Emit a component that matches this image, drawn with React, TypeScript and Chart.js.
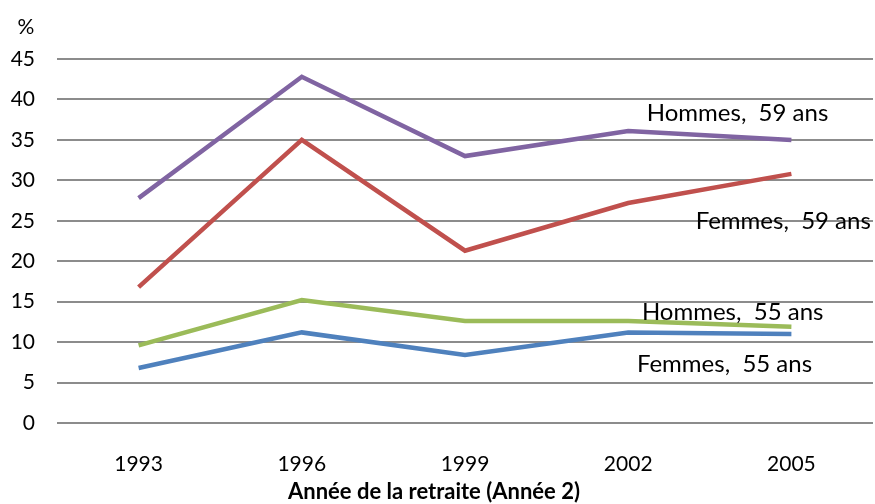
import React, { useEffect, useRef } from "react";
import { Chart, registerables } from "chart.js";

Chart.register(...registerables);

const years = ["1993", "1996", "1999", "2002", "2005"];
const hommes59 = [27.8, 42.8, 33.0, 36.1, 35.0];
const femmes59 = [16.8, 35.0, 21.3, 27.2, 30.8];
const hommes55 = [9.6, 15.2, 12.6, 12.6, 11.9];
const femmes55 = [6.8, 11.2, 8.4, 11.2, 11.0];

const seriesLabels = ["Hommes,  59 ans", "Femmes,  59 ans", "Hommes,  55 ans", "Femmes,  55 ans"];
const seriesColors = ["#8064A2", "#C0504D", "#9BBB59", "#4F81BD"];
// label anchor positions in data coordinates (category index, value)
const labelX = [3.67, 3.95, 3.64, 3.59];
const labelY = [38.3, 25.0, 13.7, 7.2];

const yUnit = "%";
const xTitle = "Année de la retraite (Année 2)";
const FONT = "Lato, 'Open Sans', sans-serif";

export default function App() {
  const ref = useRef<HTMLCanvasElement | null>(null);
  useEffect(() => {
    if (!ref.current) return;
    const labelsPlugin = {
      id: "labelsPlugin",
      afterDatasetsDraw(chart: any) {
        const ctx = chart.ctx;
        const xs = chart.scales.x;
        const ys = chart.scales.y;
        ctx.save();
        ctx.fillStyle = "#000";
        ctx.font = `24px ${FONT}`;
        ctx.textAlign = "center";
        ctx.textBaseline = "middle";
        seriesLabels.forEach((t, i) => {
          ctx.fillText(t, xs.getPixelForValue(labelX[i]), ys.getPixelForValue(labelY[i]));
        });
        ctx.font = `21px ${FONT}`;
        ctx.fillText(yUnit, 26, 27);
        ctx.font = `bold 22px ${FONT}`;
        ctx.fillText(xTitle, 434, 492);
        ctx.restore();
      },
    };
    const data = [hommes59, femmes59, hommes55, femmes55];
    const chart = new Chart(ref.current, {
      type: "line",
      data: {
        labels: years,
        datasets: data.map((d, i) => ({
          label: seriesLabels[i],
          data: d,
          borderColor: seriesColors[i],
          backgroundColor: seriesColors[i],
          borderWidth: 4.5,
          pointRadius: 0,
          tension: 0,
          fill: false,
        })),
      },
      options: {
        animation: false,
        responsive: false,
        maintainAspectRatio: false,
        layout: { padding: { top: 59, right: 2, left: 0, bottom: 0 } },
        plugins: { legend: { display: false }, tooltip: { enabled: false } },
        scales: {
          x: {
            offset: true,
            grid: { display: false, drawTicks: false },
            border: { display: false },
            ticks: { color: "#000", font: { family: FONT, size: 21 }, padding: 29 },
            afterFit(scale: any) {
              scale.height = 81;
            },
          },
          y: {
            min: 0,
            max: 45,
            ticks: { stepSize: 5, color: "#000", font: { family: FONT, size: 21 }, padding: 22 },
            grid: { color: "#8c8c8c", lineWidth: 2, drawTicks: false },
            border: { display: false },
            afterFit(scale: any) {
              scale.width = 57;
            },
          },
        },
      },
      plugins: [labelsPlugin],
    });
    return () => chart.destroy();
  }, []);
  return (
    <div style={{ position: "fixed", left: 0, top: 0, width: 875, height: 504, background: "#fff" }}>
      <canvas ref={ref} width={875} height={504} style={{ width: 875, height: 504 }} />
    </div>
  );
}
